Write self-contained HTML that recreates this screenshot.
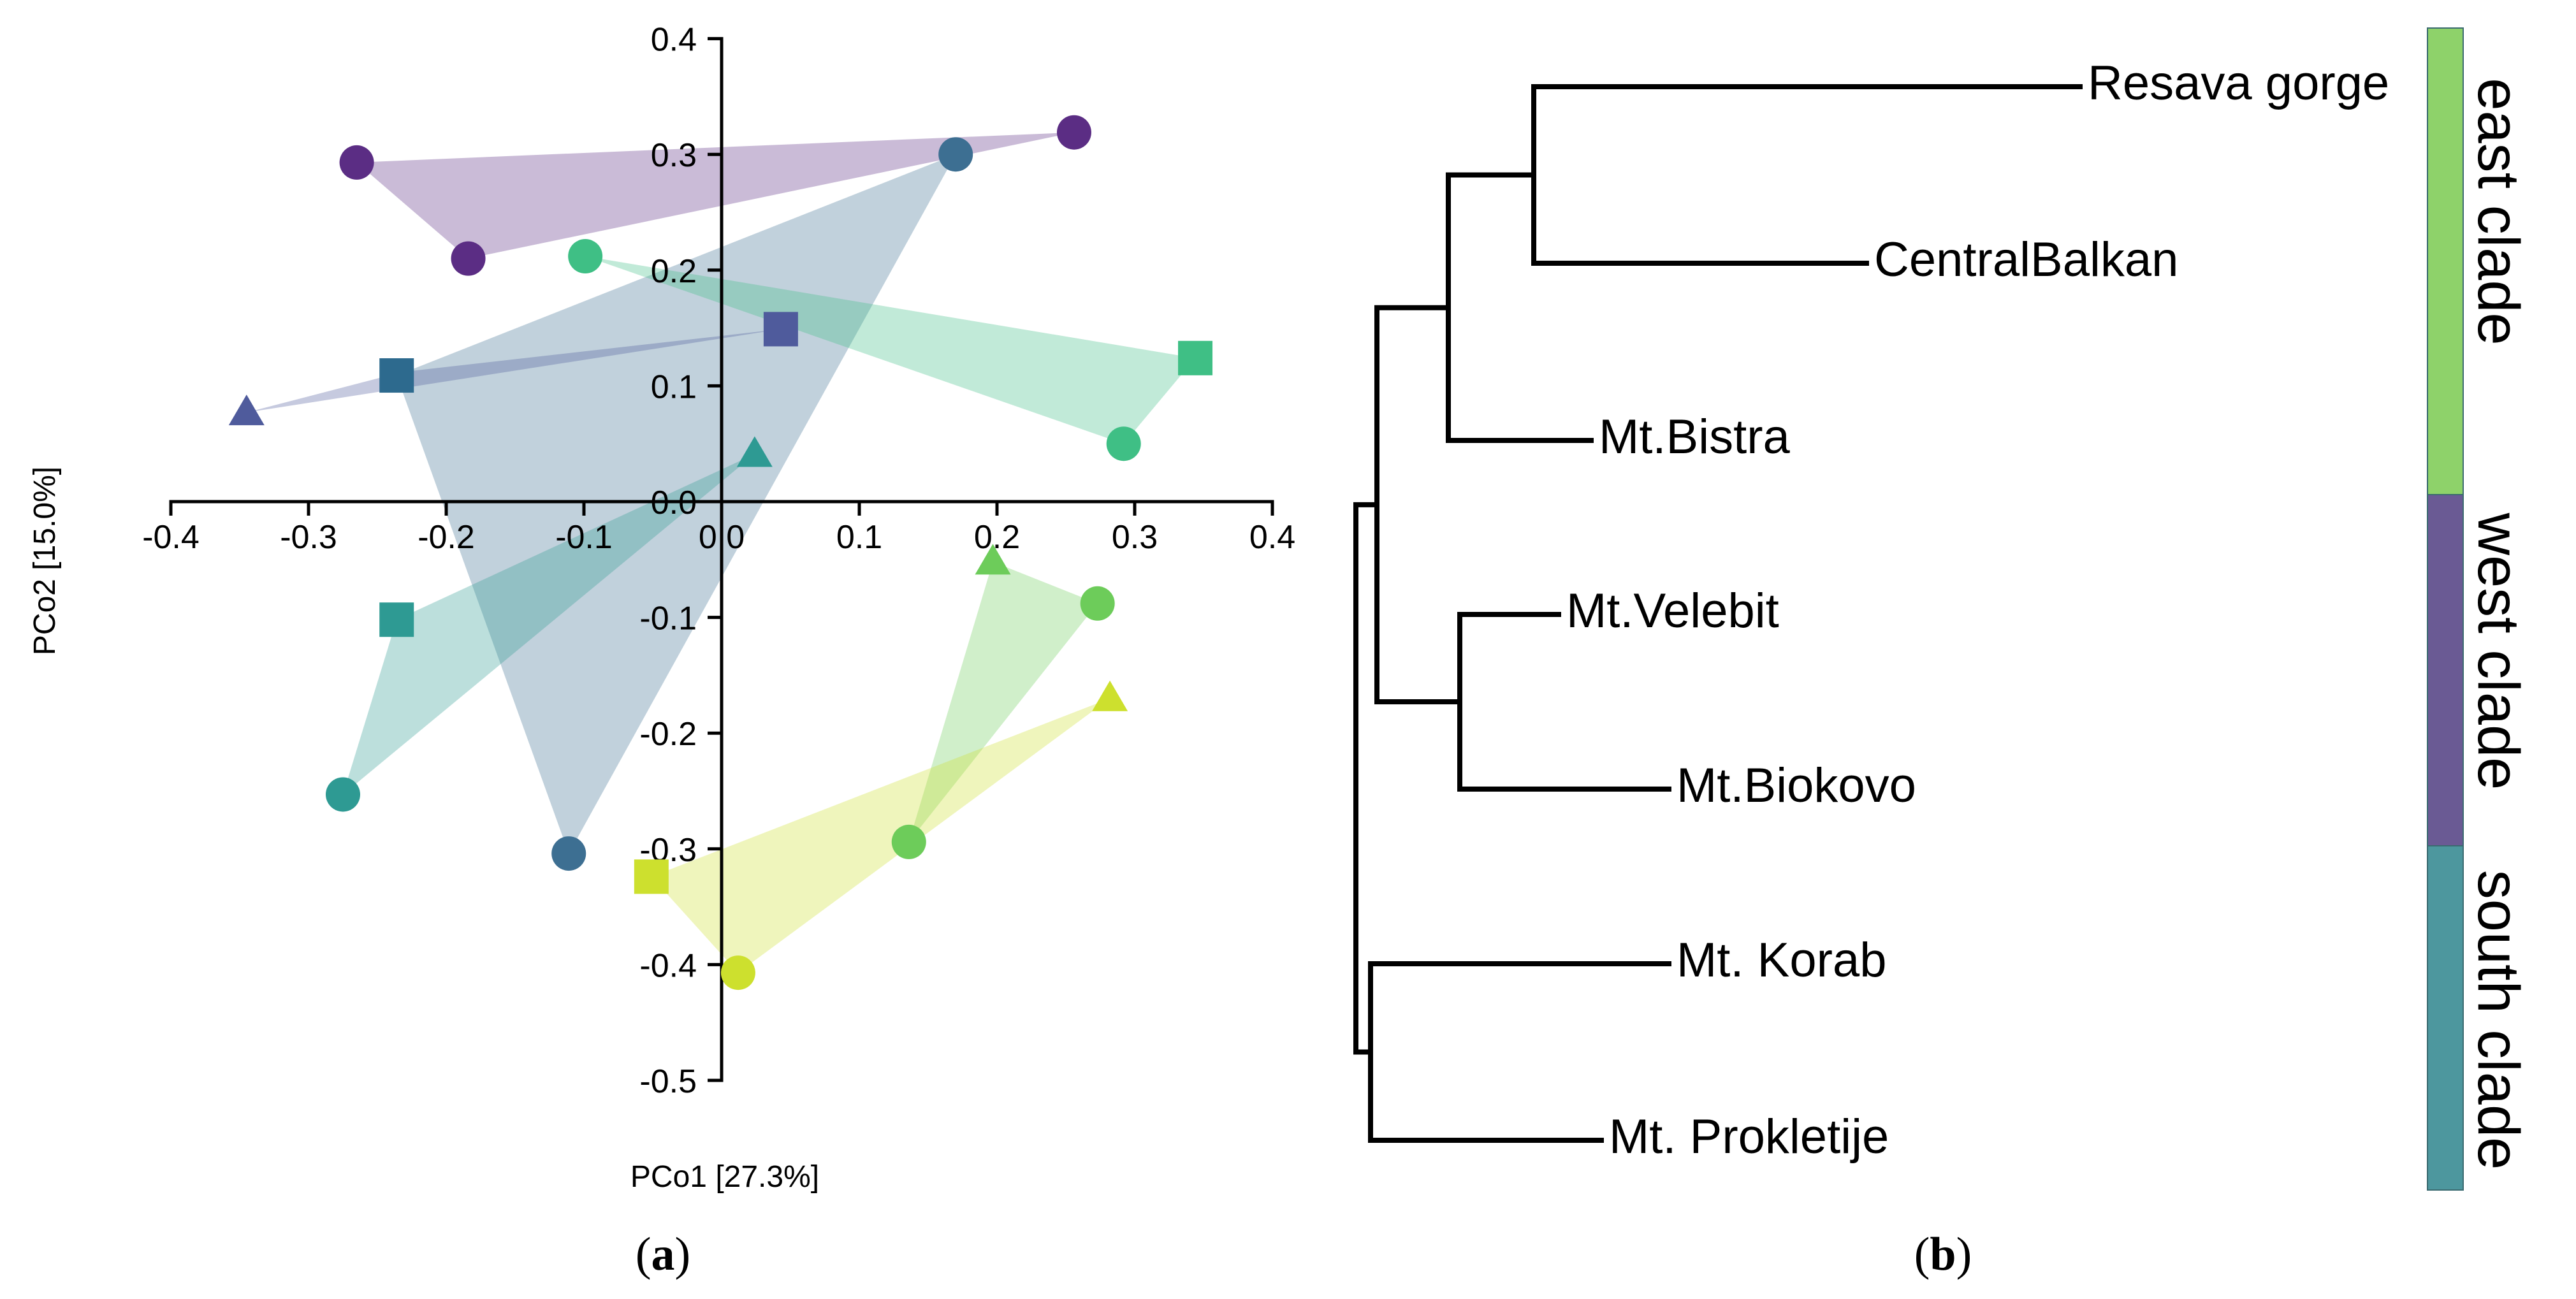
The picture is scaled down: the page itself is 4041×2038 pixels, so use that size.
<!DOCTYPE html>
<html><head><meta charset="utf-8"><style>
html,body{margin:0;padding:0;background:#fff;}
svg{display:block;}
text{font-family:"Liberation Sans",sans-serif;fill:#000;}
</style></head>
<body>
<svg id="fig" width="4041" height="2038" viewBox="0 0 4041 2038" xmlns="http://www.w3.org/2000/svg">
<g id="pcoa"></g>
<g id="tree"></g>
<text x="1040" y="1992" font-size="74" text-anchor="middle" style="font-family:'Liberation Serif',serif">(<tspan font-weight="bold">a</tspan>)</text>
<text x="3048" y="1992" font-size="74" text-anchor="middle" style="font-family:'Liberation Serif',serif">(<tspan font-weight="bold">b</tspan>)</text>
</svg>
<script>
// ---- PCoA data ----
const xTicks = [-0.4,-0.3,-0.2,-0.1,0.0,0.1,0.2,0.3,0.4];
const xTickLabels = ["-0.4","-0.3","-0.2","-0.1","0.0","0.1","0.2","0.3","0.4"];
const yTicks = [0.4,0.3,0.2,0.1,0.0,-0.1,-0.2,-0.3,-0.4,-0.5];
const yTickLabels = ["0.4","0.3","0.2","0.1","0.0","-0.1","-0.2","-0.3","-0.4","-0.5"];
const groupNames = ["purple","blue","indigo","seagreen","teal","green","yellow"];
const groupColors = ["#5b2d84","#3d6f92","#4f5b9c","#3fbf85","#2e9a93","#6dcc5a","#cde02e"];
const groupX = [
  [-0.265,-0.184,0.256],
  [0.170,-0.111,-0.236],
  [-0.345,-0.232,0.043],
  [-0.099,0.292,0.344],
  [0.024,-0.236,-0.275],
  [0.197,0.273,0.136],
  [0.282,-0.051,0.012]
];
const groupY = [
  [0.293,0.210,0.319],
  [0.300,-0.304,0.109],
  [0.077,0.112,0.149],
  [0.212,0.050,0.124],
  [0.041,-0.102,-0.253],
  [-0.052,-0.088,-0.294],
  [-0.170,-0.324,-0.407]
];
const groupShapes = [
  ["circle","circle","circle"],
  ["circle","circle","square"],
  ["triangle","none","square"],
  ["circle","circle","square"],
  ["triangle","square","circle"],
  ["triangle","circle","circle"],
  ["triangle","square","circle"]
];
const markerColors = [
  ["#5b2d84","#5b2d84","#5b2d84"],
  ["#3d6f92","#3d6f92","#2d6a8e"],
  ["#4f5b9c","#4f5b9c","#4f5b9c"],
  ["#3fbf85","#3fbf85","#3fbf85"],
  ["#2e9a93","#2e9a93","#2e9a93"],
  ["#6dcc5a","#6dcc5a","#6dcc5a"],
  ["#cde02e","#cde02e","#cde02e"]
];
// ---- tree data ----
const leafNames = ["Resava gorge","CentralBalkan","Mt.Bistra","Mt.Velebit","Mt.Biokovo","Mt. Korab","Mt. Prokletije"];
const leafDepth = [3263,2928,2496,2445,2618,2618,2512];
const cladeNames = ["east clade","west clade","south clade"];
const cladeColors = ["#8ed26a","#6a5a94","#4d979e"];

const NS="http://www.w3.org/2000/svg";
function mk(tag,attrs,parent){const e=document.createElementNS(NS,tag);for(const k in attrs)e.setAttribute(k,attrs[k]);parent.appendChild(e);return e;}
const sx = v => 1132 + v*2160;
const sy = v => 787 - v*1816;
const P = document.getElementById('pcoa');

for(let g=0; g<groupNames.length; g++){
  const pts = groupX[g].map((x,i)=>sx(x)+","+sy(groupY[g][i])).join(" ");
  const poly = mk('polygon',{points:pts,fill:groupColors[g],'fill-opacity':0.32,stroke:'none'},P);
  
  
}
const ax = mk('path',{d:`M${sx(-0.4)},${sy(0)+22} V${sy(0)} H${sx(0.4)} V${sy(0)+22}`,fill:'none',stroke:'#000','stroke-width':5},P);


const ay = mk('path',{d:`M${sx(0)-22},${sy(0.4)} H${sx(0)} V${sy(-0.5)} H${sx(0)-22}`,fill:'none',stroke:'#000','stroke-width':5},P);


xTicks.forEach((v,i)=>{
  if(i>0&&i<xTicks.length-1){const t=mk('line',{x1:sx(v),x2:sx(v),y1:sy(0),y2:sy(0)+22,stroke:'#000','stroke-width':5},P);
  
  }
  const l=mk('text',{x:sx(v),y:860,'font-size':52,'text-anchor':'middle'},P);l.textContent=xTickLabels[i];
  
  
});
yTicks.forEach((v,i)=>{
  if(i>0&&i<yTicks.length-1){const t=mk('line',{x1:sx(0)-22,x2:sx(0),y1:sy(v),y2:sy(v),stroke:'#000','stroke-width':5},P);
  
  }
  const l=mk('text',{x:1093,y:sy(v)+19,'font-size':52,'text-anchor':'end'},P);l.textContent=yTickLabels[i];
  
  
});
for(let g=0; g<groupNames.length; g++){
  groupX[g].forEach((x,i)=>{
    const cx=sx(x), cy=sy(groupY[g][i]), s=groupShapes[g][i], c=markerColors[g][i];
    let m=null;
    if(s==='circle') m=mk('circle',{cx:cx,cy:cy,r:27,fill:c},P);
    else if(s==='square') m=mk('rect',{x:cx-27,y:cy-27,width:54,height:54,fill:c},P);
    else if(s==='triangle') m=mk('polygon',{points:`${cx},${cy-28} ${cx+28},${cy+20} ${cx-28},${cy+20}`,fill:c},P);
    if(m){
      
      
    }
  });
}
const xt=mk('text',{x:1137,y:1862,'font-size':48,'text-anchor':'middle'},P);xt.textContent="PCo1 [27.3%]";


const yt=mk('text',{x:0,y:0,'font-size':48,'text-anchor':'middle',transform:'translate(86,880) rotate(-90)'},P);yt.textContent="PCo2 [15.0%]";



// ---- tree ----
const T=document.getElementById('tree');
const leafY=[136,413,691,964,1238,1512,1789];
function branch(d,name){const p=mk('path',{d:d,fill:'none',stroke:'#000','stroke-width':8,'stroke-linejoin':'miter','stroke-linecap':'square'},T);

}
const nRC=2406,nRCB=2272,nVB=2290,nEW=2160,nKP=2150,nRoot=2127;
const yRC=(leafY[0]+leafY[1])/2, yRCB=(yRC+leafY[2])/2, yVB=(leafY[3]+leafY[4])/2, yEW=(yRCB+yVB)/2, yKP=(leafY[5]+leafY[6])/2;
branch(`M${leafDepth[0]},${leafY[0]} H${nRC} V${leafY[1]} H${leafDepth[1]}`,'branch-resava-centralbalkan');
branch(`M${nRC},${yRC} H${nRCB}`,'branch-rc');
branch(`M${nRCB},${yRC} V${leafY[2]} H${leafDepth[2]}`,'branch-bistra');
branch(`M${leafDepth[3]},${leafY[3]} H${nVB} V${leafY[4]} H${leafDepth[4]}`,'branch-velebit-biokovo');
branch(`M${nRCB},${yRCB} H${nEW} V${yVB} H${nVB}`,'branch-east-west');
branch(`M${leafDepth[5]},${leafY[5]} H${nKP} V${leafY[6]} H${leafDepth[6]}`,'branch-korab-prokletije');
branch(`M${nEW},${yEW} H${nRoot} V${yKP} H${nKP}`,'branch-root');
leafNames.forEach((n,i)=>{
  const t=mk('text',{x:leafDepth[i]+12,y:leafY[i]+20,'font-size':76},T);t.textContent=n;
  
  
});
const barY=[44,776,1327,1867];
const labelCy=[332,1022,1600];
cladeNames.forEach((n,i)=>{
  const r=mk('rect',{x:3808,y:barY[i],width:56,height:barY[i+1]-barY[i],fill:cladeColors[i],stroke:'#3b6a70','stroke-width':2},T);
  
  
  const t=mk('text',{x:0,y:0,'font-size':92,'text-anchor':'middle',transform:`translate(3888,${labelCy[i]}) rotate(90)`},T);t.textContent=n;
  
  
});
</script>
</body></html>
